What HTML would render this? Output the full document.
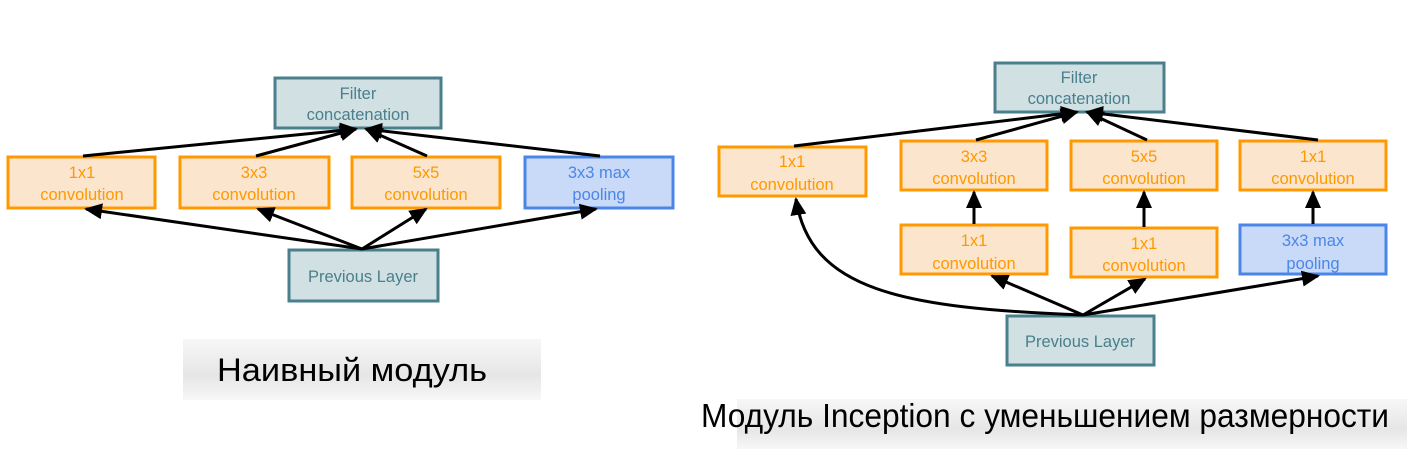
<!DOCTYPE html>
<html><head><meta charset="utf-8"><style>
html,body{margin:0;padding:0;background:#fff;}
svg{display:block}
text{font-family:"Liberation Sans",sans-serif;}
</style></head><body>
<svg width="1407" height="449" viewBox="0 0 1407 449" xmlns="http://www.w3.org/2000/svg">
<defs>
<marker id="b" markerWidth="18" markerHeight="16" refX="16" refY="8" orient="auto" markerUnits="userSpaceOnUse">
<path d="M0,0 L18,8 L0,16 z" fill="#000"/>
</marker>
<linearGradient id="g1" x1="0" x2="0" y1="0" y2="1"><stop offset="0" stop-color="#f7f7f7"/><stop offset="0.6" stop-color="#e6e6e6"/><stop offset="1" stop-color="#f7f7f7"/></linearGradient>
</defs>
<g font-size="16.5" text-anchor="middle">
<!-- LEFT -->
<rect x="275" y="78" width="166" height="50" fill="#d0e0e3" stroke="#4a7f8c" stroke-width="3"/>
<text x="358" y="99" fill="#4a7f8c">Filter</text><text x="358" y="120" fill="#4a7f8c">concatenation</text>
<rect x="8" y="157" width="147" height="51" fill="#fce5cd" stroke="#ff9900" stroke-width="3"/>
<text x="82" y="178" fill="#ff9900">1x1</text><text x="82" y="200" fill="#ff9900">convolution</text>
<rect x="180" y="157" width="149" height="51" fill="#fce5cd" stroke="#ff9900" stroke-width="3"/>
<text x="254" y="178" fill="#ff9900">3x3</text><text x="254" y="200" fill="#ff9900">convolution</text>
<rect x="352" y="157" width="148" height="51" fill="#fce5cd" stroke="#ff9900" stroke-width="3"/>
<text x="426" y="178" fill="#ff9900">5x5</text><text x="426" y="200" fill="#ff9900">convolution</text>
<rect x="525" y="157" width="148" height="51" fill="#c9daf8" stroke="#4a86e8" stroke-width="3"/>
<text x="599" y="178" fill="#4a86e8">3x3 max</text><text x="599" y="200" fill="#4a86e8">pooling</text>
<rect x="289" y="250" width="149" height="51" fill="#d0e0e3" stroke="#4a7f8c" stroke-width="3"/>
<text x="363" y="282" fill="#4a7f8c">Previous Layer</text>
<g stroke="#000" stroke-width="3" fill="none">
<line x1="83" y1="156" x2="356" y2="129" marker-end="url(#b)"/>
<line x1="256" y1="156" x2="356" y2="129" marker-end="url(#b)"/>
<line x1="427" y1="156" x2="366" y2="129" marker-end="url(#b)"/>
<line x1="600" y1="156" x2="366" y2="129" marker-end="url(#b)"/>
<line x1="362" y1="249" x2="86" y2="209" marker-end="url(#b)"/>
<line x1="362" y1="249" x2="258" y2="209" marker-end="url(#b)"/>
<line x1="362" y1="249" x2="426" y2="209" marker-end="url(#b)"/>
<line x1="362" y1="249" x2="596" y2="209" marker-end="url(#b)"/>
</g>
<!-- RIGHT -->
<rect x="995" y="63" width="169" height="49" fill="#d0e0e3" stroke="#4a7f8c" stroke-width="3"/>
<text x="1079" y="83" fill="#4a7f8c">Filter</text><text x="1079" y="104" fill="#4a7f8c">concatenation</text>
<rect x="719" y="147" width="147" height="49" fill="#fce5cd" stroke="#ff9900" stroke-width="3"/>
<text x="792" y="167" fill="#ff9900">1x1</text><text x="792" y="190" fill="#ff9900">convolution</text>
<rect x="901" y="141" width="146" height="49" fill="#fce5cd" stroke="#ff9900" stroke-width="3"/>
<text x="974" y="162" fill="#ff9900">3x3</text><text x="974" y="184" fill="#ff9900">convolution</text>
<rect x="1071" y="141" width="146" height="49" fill="#fce5cd" stroke="#ff9900" stroke-width="3"/>
<text x="1144" y="162" fill="#ff9900">5x5</text><text x="1144" y="184" fill="#ff9900">convolution</text>
<rect x="1240" y="141" width="146" height="49" fill="#fce5cd" stroke="#ff9900" stroke-width="3"/>
<text x="1313" y="162" fill="#ff9900">1x1</text><text x="1313" y="184" fill="#ff9900">convolution</text>
<rect x="901" y="225" width="146" height="49" fill="#fce5cd" stroke="#ff9900" stroke-width="3"/>
<text x="974" y="246" fill="#ff9900">1x1</text><text x="974" y="269" fill="#ff9900">convolution</text>
<rect x="1071" y="228" width="146" height="49" fill="#fce5cd" stroke="#ff9900" stroke-width="3"/>
<text x="1144" y="249" fill="#ff9900">1x1</text><text x="1144" y="271" fill="#ff9900">convolution</text>
<rect x="1240" y="225" width="146" height="49" fill="#c9daf8" stroke="#4a86e8" stroke-width="3"/>
<text x="1313" y="246" fill="#4a86e8">3x3 max</text><text x="1313" y="269" fill="#4a86e8">pooling</text>
<rect x="1007" y="316" width="147" height="49" fill="#d0e0e3" stroke="#4a7f8c" stroke-width="3"/>
<text x="1080" y="347" fill="#4a7f8c">Previous Layer</text>
<g stroke="#000" stroke-width="3" fill="none">
<line x1="794" y1="146" x2="1077" y2="112" marker-end="url(#b)"/>
<line x1="976" y1="140" x2="1077" y2="112" marker-end="url(#b)"/>
<line x1="1147" y1="140" x2="1087" y2="112" marker-end="url(#b)"/>
<line x1="1318" y1="140" x2="1087" y2="112" marker-end="url(#b)"/>
<line x1="974" y1="224" x2="974" y2="192" marker-end="url(#b)"/>
<line x1="1144" y1="227" x2="1144" y2="192" marker-end="url(#b)"/>
<line x1="1313" y1="224" x2="1313" y2="192" marker-end="url(#b)"/>
<line x1="1083" y1="315" x2="992" y2="276" marker-end="url(#b)"/>
<line x1="1083" y1="315" x2="1145" y2="279" marker-end="url(#b)"/>
<line x1="1083" y1="315" x2="1318" y2="276" marker-end="url(#b)"/>
<path d="M1083,315 C900,308 810,290 796,199" marker-end="url(#b)"/>
</g>
</g>
<!-- captions -->
<rect x="183" y="339" width="358" height="61" fill="url(#g1)"/>
<text x="352" y="381" font-size="32" text-anchor="middle" fill="#000" textLength="270" lengthAdjust="spacingAndGlyphs">Наивный модуль</text>
<rect x="737" y="399" width="670" height="50" fill="url(#g1)"/>
<text x="701" y="427" font-size="33" fill="#000" textLength="688" lengthAdjust="spacingAndGlyphs">Модуль Inception с уменьшением размерности</text>
</svg>
</body></html>
